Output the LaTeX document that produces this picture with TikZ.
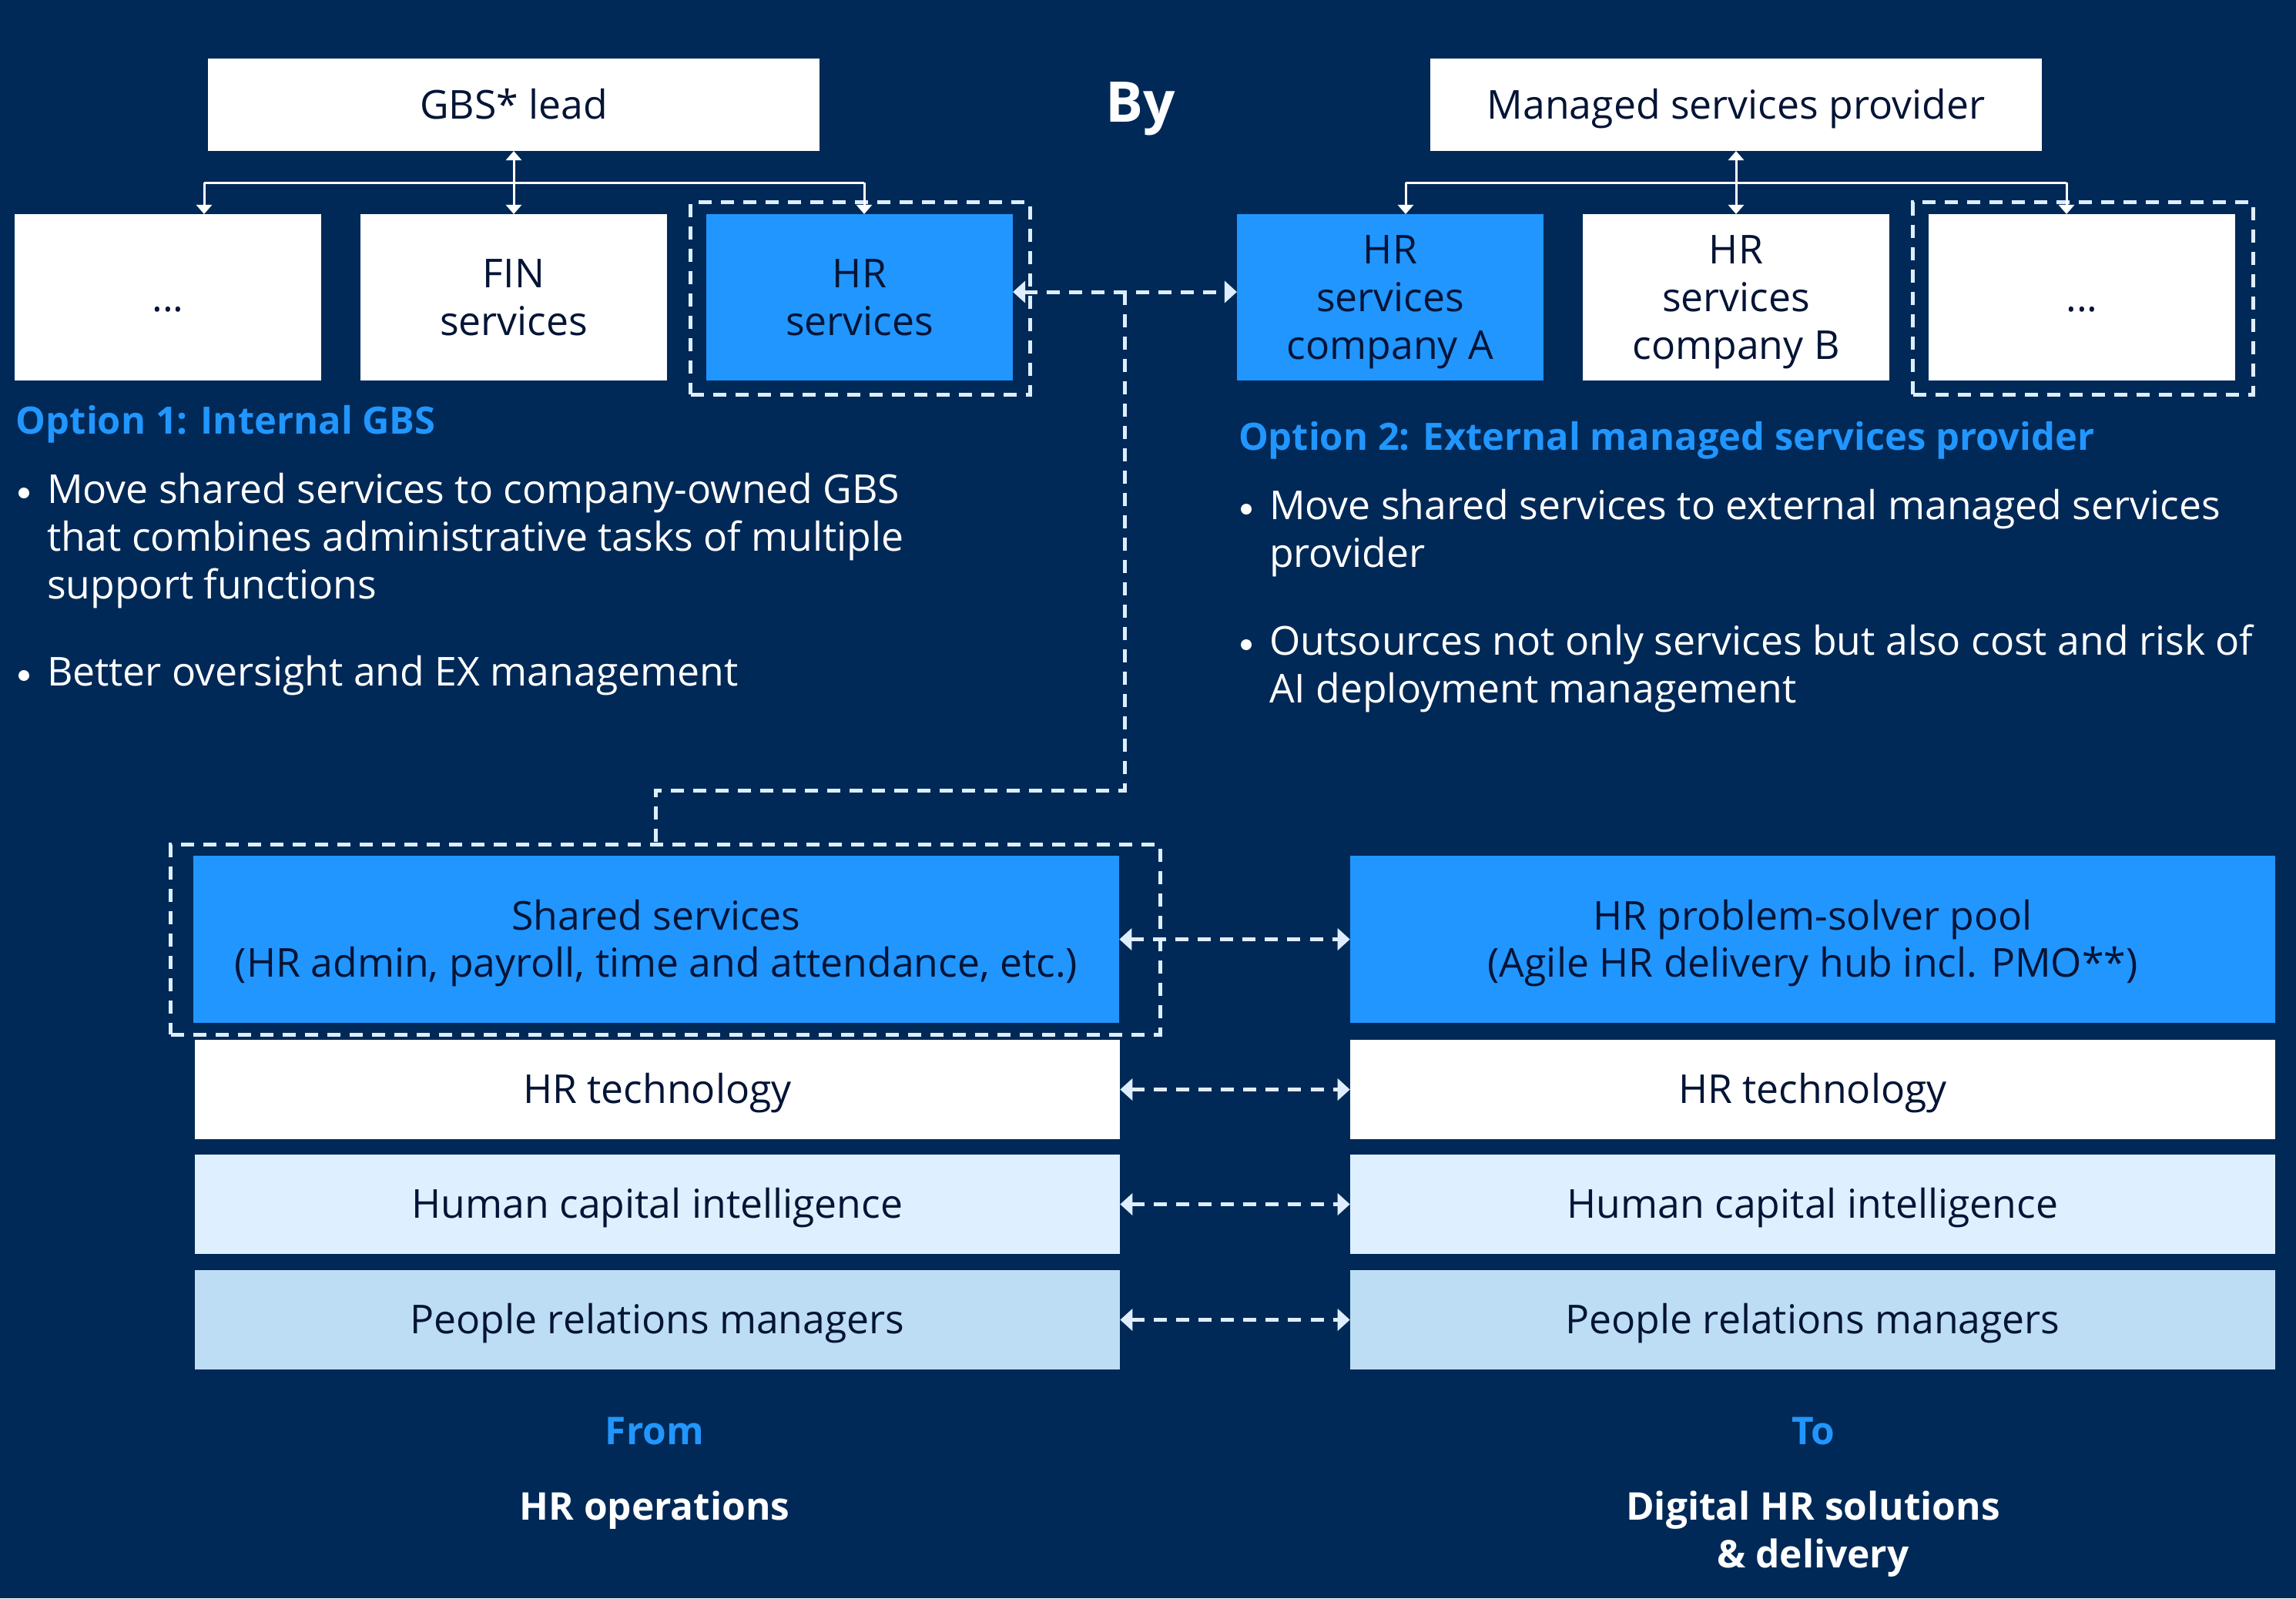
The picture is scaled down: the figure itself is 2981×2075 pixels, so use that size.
\documentclass[tikz,border=0pt]{standalone}
\usepackage{fontspec}
\setmainfont{Open Sans}
\usetikzlibrary{arrows.meta,calc}
\definecolor{bg}{RGB}{0,41,87}
\definecolor{hrblue}{RGB}{33,150,255}
\definecolor{lightone}{RGB}{222,240,255}
\definecolor{lighttwo}{RGB}{188,221,243}
\definecolor{txt}{RGB}{4,20,54}
\definecolor{dashc}{RGB}{222,238,255}
\newcommand\lnx[1]{\rule{0pt}{10.5pt}\smash{#1}}
\tikzset{
  box/.style={draw=none, inner sep=0pt, outer sep=0pt, align=center, text=txt, font=\fontsize{14.7}{17.6}\selectfont},
  wbox/.style={box, fill=white},
  bbox/.style={box, fill=hrblue},
  lonebox/.style={box, fill=lightone},
  ltwobox/.style={box, fill=lighttwo},
  dframe/.style={draw=dashc, line width=0.05cm, dash pattern=on 0.17cm off 0.12cm, inner sep=0pt, outer sep=0pt, fill=none},
  treeline/.style={draw=white, line width=0.03cm},
  treearrow/.style={treeline, -{Triangle[length=0.12cm,width=0.2cm]}},
  treebiarrow/.style={treeline, {Triangle[length=0.12cm,width=0.2cm]}-{Triangle[length=0.12cm,width=0.2cm]}},
  dline/.style={draw=dashc, line width=0.05cm, dash pattern=on 0.17cm off 0.12cm},
  dbiarrow/.style={dline, {Triangle[length=0.16cm,width=0.28cm]}-{Triangle[length=0.16cm,width=0.28cm]}},
  body/.style={text=white, inner sep=0pt, outer sep=0pt, anchor=base west, font=\fontsize{14.7}{17.6}\selectfont},
  bulletdot/.style={circle, fill=white, draw=none, inner sep=0pt, outer sep=0pt, minimum size=0.14cm},
  heading/.style={text=hrblue, inner sep=0pt, outer sep=0pt, anchor=base west, font=\bfseries\fontsize{13.9}{17.6}\selectfont},
  foot/.style={inner sep=0pt, outer sep=0pt, anchor=base, align=center, font=\bfseries\fontsize{14.1}{17.6}\selectfont},
}
\begin{document}
\begin{tikzpicture}[x=0.01cm,y=-0.01cm]
\fill[bg] (0,0) rectangle (2981,2075);
\useasboundingbox (0,0) rectangle (2981,2075);

% ---------- top left ----------
\node[wbox, minimum width=7.93cm, minimum height=1.20cm] (gbs) at (667,136) {\lnx{GBS* lead}};
\node[wbox, minimum width=3.98cm, minimum height=2.16cm] (dotsL) at (218,386) {\lnx{...}};
\node[wbox, minimum width=3.98cm, minimum height=2.16cm] (fin) at (667,386) {\lnx{FIN}\\\lnx{services}};
\node[bbox, minimum width=3.98cm, minimum height=2.16cm] (hrs) at (1116,386) {\lnx{HR}\\\lnx{services}};
\node[dframe, minimum width=4.40cm, minimum height=2.49cm] (hrsframe) at (1117,387.5) {};

\coordinate (tL) at (265,237);
\coordinate (tR) at (1122,237);
\draw[treeline] (tL) -- (tR);
\draw[treearrow] (tL) -- (tL |- dotsL.north);
\draw[treearrow] (tR) -- (tR |- hrs.north);
\draw[treebiarrow] (gbs.south) -- (fin.north);

% ---------- top right ----------
\node[wbox, minimum width=7.93cm, minimum height=1.20cm] (msp) at (2254,136) {\lnx{Managed services provider}};
\node[bbox, minimum width=3.98cm, minimum height=2.16cm] (coA) at (1805,386) {\lnx{HR}\\\lnx{services}\\\lnx{company A}};
\node[wbox, minimum width=3.98cm, minimum height=2.16cm] (coB) at (2254,386) {\lnx{HR}\\\lnx{services}\\\lnx{company B}};
\node[wbox, minimum width=3.98cm, minimum height=2.16cm] (dotsR) at (2703,386) {\lnx{...}};
\node[dframe, minimum width=4.41cm, minimum height=2.49cm] (dotsRframe) at (2704.5,387.5) {};

\coordinate (uL) at (1825,237);
\coordinate (uR) at (2683,237);
\draw[treeline] (uL) -- (uR);
\draw[treearrow] (uL) -- (uL |- coA.north);
\draw[treearrow] (uR) -- (uR |- dotsR.north);
\draw[treebiarrow] (msp.south) -- (coB.north);

% By
\node[text=white, font=\bfseries\fontsize{20.7}{24}\selectfont, inner sep=0pt, anchor=base] (by) at (1481,158) {By};

% ---------- option texts ----------
\node[heading] (o1) at (21,563) {Option 1: Internal GBS};
\node[bulletdot] (o1b1) at (31,640) {};
\node[body] (o1l1) at (61,653) {Move shared services to company-owned GBS};
\node[body] (o1l2) at (61,715) {that combines administrative tasks of multiple};
\node[body] (o1l3) at (61,777) {support functions};
\node[bulletdot] (o1b2) at (31,877) {};
\node[body] (o1l4) at (61,890) {Better oversight and EX management};

\node[heading] (o2) at (1608,584) {Option 2: External managed services provider};
\node[bulletdot] (o2b1) at (1618,661) {};
\node[body] (o2l1) at (1648,674) {Move shared services to external managed services};
\node[body] (o2l2) at (1648,736) {provider};
\node[bulletdot] (o2b2) at (1618,837) {};
\node[body] (o2l3) at (1648,850) {Outsources not only services but also cost and risk of};
\node[body] (o2l4) at (1648,912) {AI deployment management};

% ---------- bottom rows ----------
\node[bbox, minimum width=12.02cm, minimum height=2.17cm] (shared) at (852,1219.5) {\lnx{Shared services}\\\lnx{(HR admin, payroll, time and attendance, etc.)}};
\node[dframe, minimum width=12.84cm, minimum height=2.46cm] (sharedframe) at (864,1220) {};
\node[bbox, minimum width=12.01cm, minimum height=2.17cm] (pool) at (2353.5,1219.5) {\lnx{HR problem-solver pool}\\\lnx{(Agile HR delivery hub incl. PMO**)}};

\node[wbox, minimum width=12.01cm, minimum height=1.29cm] (techL) at (853.5,1414.5) {\lnx{HR technology}};
\node[wbox, minimum width=12.01cm, minimum height=1.29cm] (techR) at (2353.5,1414.5) {\lnx{HR technology}};
\node[lonebox, minimum width=12.01cm, minimum height=1.29cm] (hciL) at (853.5,1563.5) {\lnx{Human capital intelligence}};
\node[lonebox, minimum width=12.01cm, minimum height=1.29cm] (hciR) at (2353.5,1563.5) {\lnx{Human capital intelligence}};
\node[ltwobox, minimum width=12.01cm, minimum height=1.29cm] (prmL) at (853.5,1713.5) {\lnx{People relations managers}};
\node[ltwobox, minimum width=12.01cm, minimum height=1.29cm] (prmR) at (2353.5,1713.5) {\lnx{People relations managers}};

% ---------- dashed connectors ----------
\coordinate (j1) at (1460,379);
\coordinate (j2) at (1460,1026);
\coordinate (j3) at (851,1026);
\coordinate (j4) at (851,1097);
\draw[dbiarrow] (hrs.east |- j1) -- (coA.west |- j1);
\draw[dline] (j1) -- (j2) -- (j3) -- (j4);
\draw[dbiarrow] (shared.east) -- (pool.west);
\draw[dbiarrow] (techL.east) -- (techR.west);
\draw[dbiarrow] (hciL.east) -- (hciR.west);
\draw[dbiarrow] (prmL.east) -- (prmR.west);

% ---------- footer ----------
\node[foot, text=hrblue] (from) at (850,1875) {From};
\node[foot, text=white] (hrop) at (850,1973) {HR operations};
\node[foot, text=hrblue] (to) at (2354,1875) {To};
\node[foot, text=white] (dig) at (2354,1973) {Digital HR solutions};
\node[foot, text=white] (deliv) at (2354,2035) {\& delivery};
\end{tikzpicture}
\end{document}
